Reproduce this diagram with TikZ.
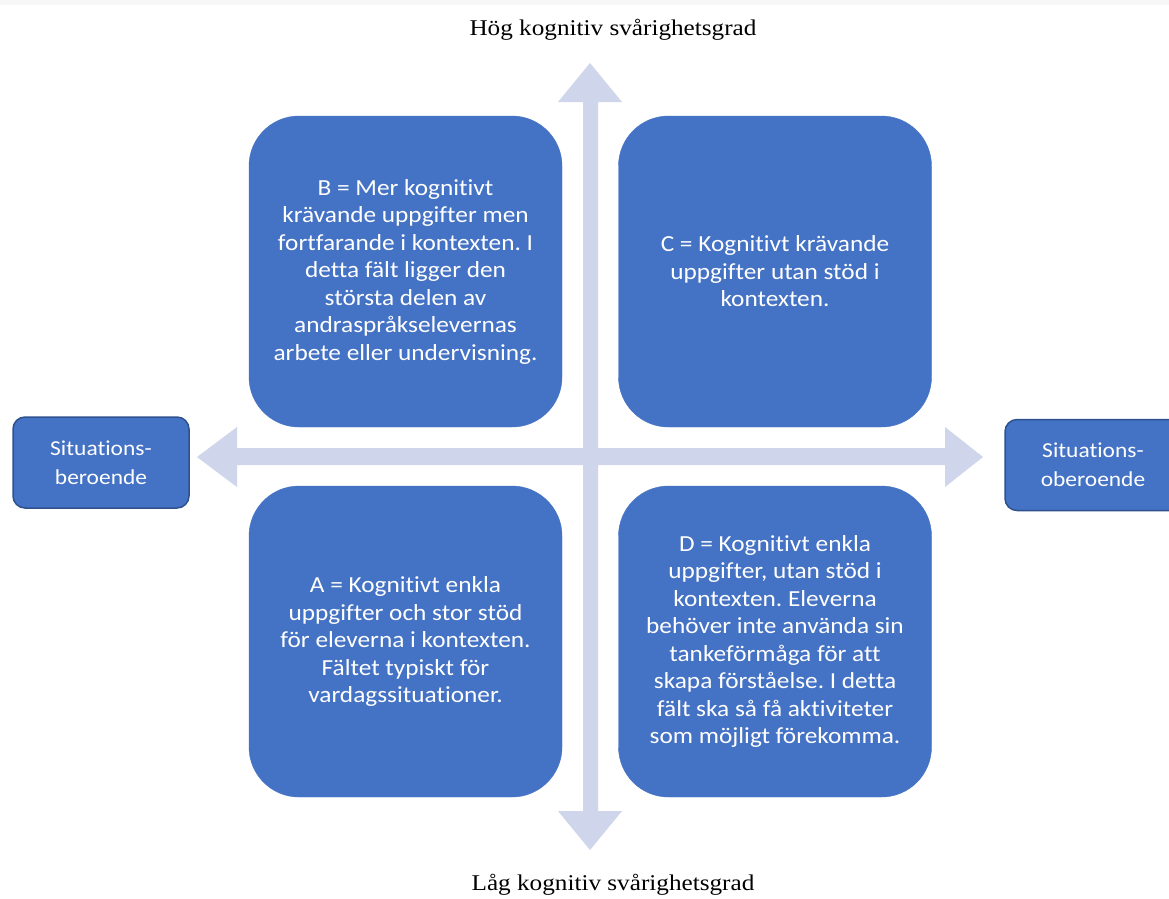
\documentclass[tikz,border=0pt]{standalone}
\usepackage{fontspec}
\setmainfont{Liberation Serif}
\newfontfamily\boxfont{Carlito}[FakeStretch=1.1, Ligatures={NoCommon}]
\newfontfamily\titlefont{Liberation Serif}[FakeStretch=1.12]
\definecolor{boxblue}{HTML}{4472C4}
\definecolor{boxedge}{HTML}{2F528F}
\definecolor{axisfill}{HTML}{CFD5EA}
\definecolor{topband}{HTML}{F7F7F7}
\frenchspacing
\begin{document}
\begin{tikzpicture}[x=1pt,y=-1pt,
  quad/.style={rectangle, rounded corners=50pt, fill=boxblue, draw=boxblue,
    minimum width=313pt, minimum height=311pt, inner sep=0pt,
    text=white, align=center, font=\boxfont\fontsize{23}{27.5}\selectfont},
  side/.style={rectangle, rounded corners=12pt, fill=boxblue, draw=boxedge,
    line width=1.5pt, minimum width=176pt, minimum height=91pt, inner sep=0pt,
    text=white, align=center, font=\boxfont\fontsize{21.3}{29}\selectfont},
  axislabel/.style={font=\titlefont\fontsize{22.5}{27}\selectfont, text=black}]
\useasboundingbox (0,0) rectangle (1169,898);
\begin{scope}
\clip (0,0) rectangle (1169,898);
\fill[white] (0,0) rectangle (1169,898);
\fill[topband] (0,0) rectangle (1169,5);

% vertical double arrow (cognitive difficulty)
\fill[axisfill] (583,102) -- (558,102) -- (590,63) -- (622,102) -- (598,102)
  -- (598,811) -- (622,811) -- (590,850) -- (558,811) -- (583,811) -- cycle;
% horizontal double arrow (situation dependence)
\fill[axisfill] (237,448) -- (237,427) -- (197,457) -- (237,487) -- (237,465)
  -- (945,465) -- (945,487) -- (983,457) -- (945,427) -- (945,448) -- cycle;

% axis labels
\node[axislabel] (hog) at (613,30) {Hög kognitiv svårighetsgrad};
\node[axislabel] (lag) at (613,885) {Låg kognitiv svårighetsgrad};

% quadrants
\node[quad] (B) at (405.5,271.5) {B = Mer kognitivt\\krävande uppgifter men\\fortfarande i kontexten. I\\detta fält ligger den\\största delen av\\andraspråkselevernas\\arbete eller undervisning.};
\node[quad] (C) at (775,271.5) {C = Kognitivt krävande\\uppgifter utan stöd i\\kontexten.};
\node[quad] (A) at (405.5,641.5) {A = Kognitivt enkla\\uppgifter och stor stöd\\för eleverna i kontexten.\\Fältet typiskt för\\vardagssituationer.};
\node[quad] (D) at (775,641.5) {D = Kognitivt enkla\\uppgifter, utan stöd i\\kontexten. Eleverna\\behöver inte använda sin\\tankeförmåga för att\\skapa förståelse. I detta\\fält ska så få aktiviteter\\som möjligt förekomma.};

% side labels
\node[side] (beroende) at (101,462.5) {Situations-\\beroende};
\node[side] (oberoende) at (1093,465) {Situations-\\oberoende};
\end{scope}
\end{tikzpicture}
\end{document}
